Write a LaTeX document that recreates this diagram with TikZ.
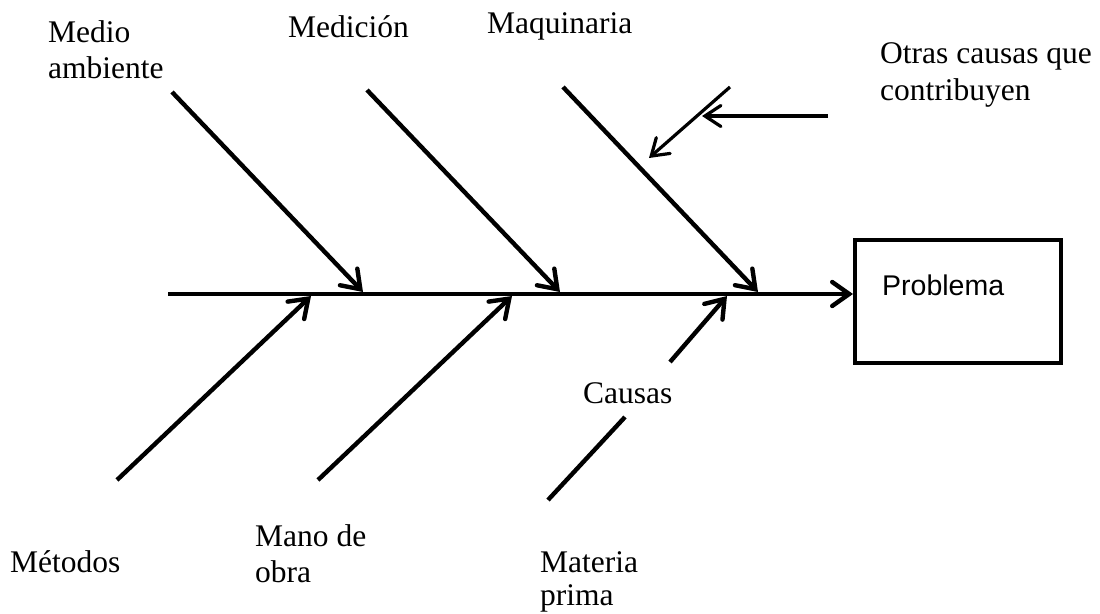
\documentclass[tikz,border=0pt]{standalone}
\usepackage{fontspec}
\setmainfont{Liberation Serif}
\newfontfamily\arialfont{Liberation Sans}
\usetikzlibrary{arrows.meta}
\begin{document}
\begin{tikzpicture}[x=1pt,y=-1pt,
  bone/.style={line width=4.4pt,-{Straight Barb[length=17pt,width=24pt,line cap=round]}},
  plain/.style={line width=4.4pt},
  thin/.style={line width=3.2pt,-{Straight Barb[length=16pt,width=21pt,line cap=round]}},
  lbl/.style={anchor=base west,inner sep=0pt,font=\fontsize{31.5}{36}\selectfont},
  box/.style={draw,line width=4.4pt,minimum width=206pt,minimum height=123pt,inner sep=0pt}]
\useasboundingbox (0,0) rectangle (1100,613);
% problem box
\node[box] (prob) at (958,301.5) {};
\node[anchor=base west,inner sep=0pt,font=\arialfont\fontsize{28.5}{32}\selectfont] (probtxt) at (882,295) {Problema};
% spine
\coordinate (s0) at (168,294);
\coordinate (s1) at (853,294);
\draw[bone] (s0) -- (s1);
% upper bones
\coordinate (a0) at (172,92);  \coordinate (a1) at (363,292);
\coordinate (b0) at (367,90);  \coordinate (b1) at (560,292);
\coordinate (c0) at (563,87);  \coordinate (c1) at (758,292);
\draw[bone] (a0) -- (a1);
\draw[bone] (b0) -- (b1);
\draw[bone] (c0) -- (c1);
% lower bones
\coordinate (d0) at (117,480); \coordinate (d1) at (311,296);
\coordinate (e0) at (318,480); \coordinate (e1) at (512,296);
\coordinate (f0) at (548,500); \coordinate (f1) at (625,417);
\coordinate (f2) at (670,362); \coordinate (f3) at (727,296);
\draw[bone] (d0) -- (d1);
\draw[bone] (e0) -- (e1);
\draw[plain] (f0) -- (f1);
\draw[bone] (f2) -- (f3);
% other causes arrows
\coordinate (g0) at (730,87);  \coordinate (g1) at (649,158);
\coordinate (h0) at (828,116); \coordinate (h1) at (702,116);
\draw[thin] (g0) -- (g1);
\draw[thin] (h0) -- (h1);
% labels
\node[lbl] (l1a) at (48,42) {Medio};
\node[lbl] (l1b) at (48,78) {ambiente};
\node[lbl] (l2) at (288,37) {Medición};
\node[lbl] (l3) at (487,33) {Maquinaria};
\node[lbl] (l4a) at (880,63) {Otras causas que};
\node[lbl] (l4b) at (880,100) {contribuyen};
\node[lbl] (l5) at (10,572) {Métodos};
\node[lbl] (l6a) at (255,546) {Mano de};
\node[lbl] (l6b) at (255,582) {obra};
\node[lbl] (l7a) at (540,572) {Materia};
\node[lbl] (l7b) at (540,605) {prima};
\node[lbl] (l8) at (583,403) {Causas};
\end{tikzpicture}
\end{document}
